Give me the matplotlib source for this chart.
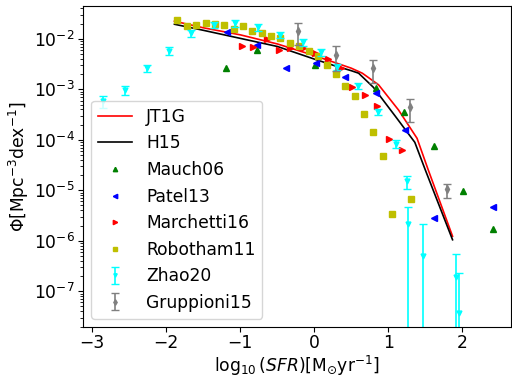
import numpy as np
import matplotlib
matplotlib.use('Agg')
import matplotlib.pyplot as plt

# model curves (log10 SFR, log10 Phi)
h15_x = [-1.89, -1.5, -1.0, -0.5, 0.0, 0.25, 0.5, 0.6, 0.8, 1.1, 1.36, 1.5, 1.87]
h15_y = [-1.71, -1.83, -1.99, -2.15, -2.40, -2.52, -2.63, -2.68, -2.96, -3.54, -4.05, -4.59, -5.98]
jt1g_x = [-1.89, -1.5, -1.0, -0.5, 0.0, 0.5, 0.65, 0.87, 1.14, 1.39, 1.54, 1.87]
jt1g_y = [-1.65, -1.78, -1.92, -2.10, -2.33, -2.58, -2.68, -2.91, -3.41, -3.97, -4.59, -5.91]

# observations
mauch_x = [-1.19, -0.78, 0.01, 0.83, 1.22, 1.62, 2.01, 2.42]
mauch_y = [-2.57, -2.22, -2.51, -2.98, -3.44, -4.12, -5.01, -5.77]

patel_x = [-1.18, -0.77, -0.38, 0.03, 0.42, 0.83, 1.23, 1.62, 2.42]
patel_y = [-1.86, -2.12, -2.57, -2.47, -2.75, -3.08, -3.80, -5.54, -5.33]

marchetti_x = [-0.98, -0.83, -0.64, -0.48, -0.33, -0.15, 0.01, 0.18, 0.36, 0.51, 0.68, 0.85, 1.01, 1.18]
marchetti_y = [-2.15, -2.16, -2.01, -2.23, -2.18, -2.18, -2.28, -2.40, -2.57, -2.96, -3.11, -3.33, -3.99, -4.21]

robotham_x = [-1.85, -1.72, -1.60, -1.47, -1.34, -1.22, -1.09, -0.96, -0.84, -0.71, -0.58, -0.46,
              -0.33, -0.21, -0.07, 0.05, 0.17, 0.30, 0.42, 0.55, 0.67, 0.80, 0.93, 1.05, 1.31]
robotham_y = [-1.62, -1.74, -1.72, -1.68, -1.70, -1.72, -1.81, -1.74, -1.84, -1.89, -1.94, -1.99,
              -2.09, -2.14, -2.25, -2.34, -2.51, -2.69, -2.93, -3.14, -3.49, -3.84, -4.33, -5.47, -5.17]

zhao_x = [-2.86, -2.56, -2.26, -1.97, -1.66, -1.36, -1.07, -0.76, -0.46, -0.15, 0.09, 0.31, 0.59,
          0.86, 1.10, 1.25, 1.27, 1.47, 1.92, 1.96]
zhao_y = [-3.24, -3.02, -2.58, -2.24, -1.89, -1.72, -1.69, -1.77, -1.92, -2.07, -2.26, -2.55, -2.93,
          -3.44, -4.08, -4.81, -5.66, -6.31, -6.71, -7.43]
# errors in dex (up, down); None -> down to zero
zhao_up = [0.11, 0.08, 0.07, 0.07, 0.06, 0.06, 0.06, 0.06, 0.06, 0.06, 0.06, 0.06, 0.06,
           0.06, 0.07, 0.10, 0.33, 0.64, 0.44, 0.80]
zhao_dn = [0.13, 0.09, 0.08, 0.08, 0.07, 0.07, 0.07, 0.07, 0.07, 0.07, 0.07, 0.07, 0.07,
           0.07, 0.08, 0.16, None, None, None, None]

grupp_x = [-0.22, 0.29, 0.79, 1.29, 1.79]
grupp_y = [-1.84, -2.32, -2.58, -3.34, -4.98]
grupp_up = [0.16, 0.18, 0.16, 0.15, 0.10]
grupp_dn = [0.28, 0.32, 0.30, 0.30, 0.17]


def dex_err(logy, up, dn):
    y = 10 ** np.array(logy)
    hi = y * (10 ** np.array(up) - 1)
    lo = np.array([v * (1 - 10 ** (-d)) if d is not None else v for v, d in zip(y, dn)])
    return y, [lo, hi]


plt.rcParams['font.size'] = 12.3
fig = plt.figure(figsize=(5.12, 3.79), dpi=100)
ax = fig.add_axes([0.162, 0.137, 0.836, 0.847])

ax.plot(jt1g_x, 10 ** np.array(jt1g_y), color='r', lw=1.2, label='JT1G')
ax.plot(h15_x, 10 ** np.array(h15_y), color='k', lw=1.2, label='H15')
ax.plot(mauch_x, 10 ** np.array(mauch_y), '^', color='g', ms=4.5, ls='none', label='Mauch06')
ax.plot(patel_x, 10 ** np.array(patel_y), '<', color='b', ms=4.5, ls='none', label='Patel13')
ax.plot(marchetti_x, 10 ** np.array(marchetti_y), '>', color='r', ms=4.5, ls='none', label='Marchetti16')
ax.plot(robotham_x, 10 ** np.array(robotham_y), 's', color='y', ms=4.5, ls='none', label='Robotham11')

zy, zerr = dex_err(zhao_y, zhao_up, zhao_dn)
ax.errorbar(zhao_x, zy, yerr=zerr, fmt='v', color='cyan', ms=3.5, capsize=3, lw=1.2, label='Zhao20')
gy, gerr = dex_err(grupp_y, grupp_up, grupp_dn)
ax.errorbar(grupp_x, gy, yerr=gerr, fmt='d', color='grey', ms=4, capsize=3, lw=1.2, label='Gruppioni15')

ax.set_yscale('log')
ax.set_xlim(-3.127, 2.66)
ax.set_ylim(10 ** -7.71, 10 ** -1.35)
ax.set_xlabel(r'$\log_{10}(SFR)$[M$_{\odot}$yr$^{-1}$]', labelpad=1)
ax.set_ylabel(r'$\Phi$[Mpc$^{-3}$dex$^{-1}$]', labelpad=2)
ax.tick_params(axis='x', pad=1.5)
ax.tick_params(axis='y', pad=2.5)
ax.legend(loc='lower left', markerscale=0.7)

plt.savefig('out.png')
